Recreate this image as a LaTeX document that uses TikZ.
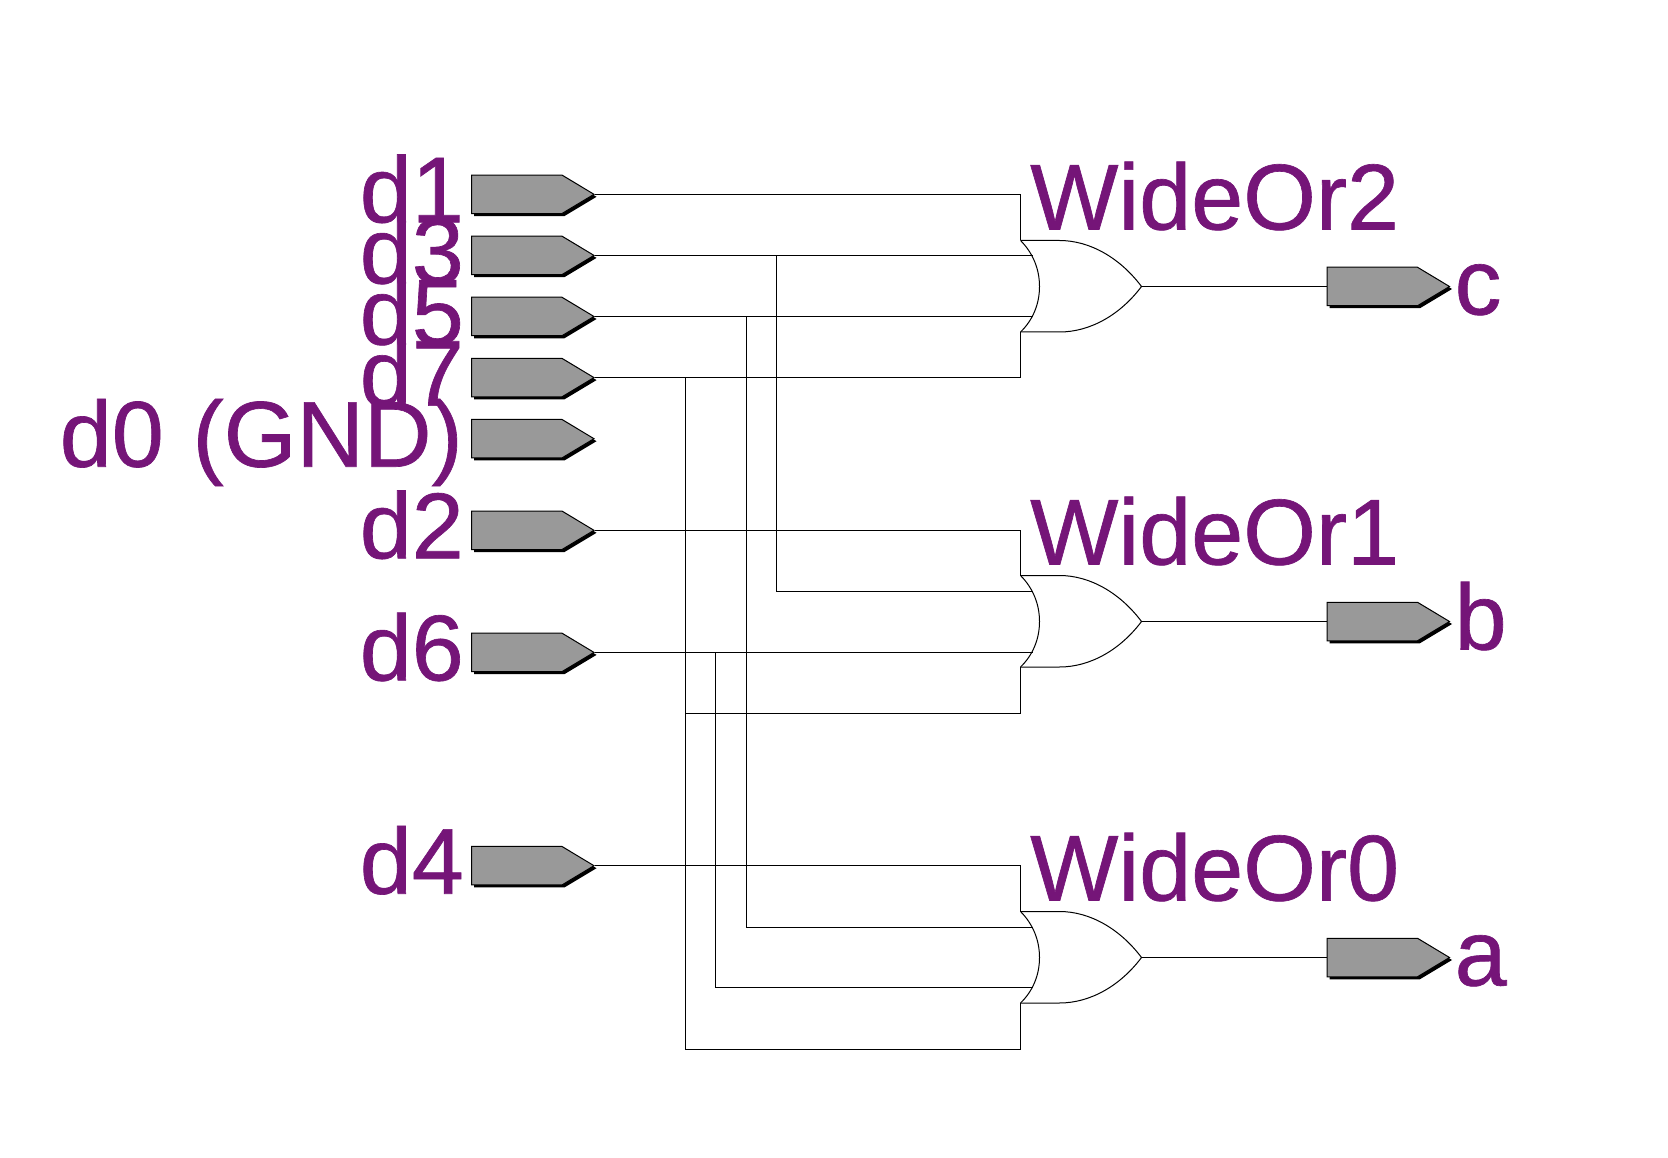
\documentclass[tikz,border=0pt]{standalone}
\usepackage{fontspec}
\setmainfont{Liberation Sans}
\newfontfamily\netfont[FakeBold=0.7]{Liberation Sans}
\usepackage{xcolor}
\usepackage{tikz}
\usetikzlibrary{positioning,shapes.symbols,shadows}
\definecolor{netpurple}{RGB}{117,21,120}
\definecolor{portgray}{RGB}{153,153,153}
\tikzset{
    port/.style={signal, signal to=east, signal pointer angle=62, draw=black, line width=1pt, fill=portgray, minimum width=122.5pt, minimum height=38.5pt, inner sep=0pt, drop shadow={shadow xshift=2.5pt, shadow yshift=-2.5pt, fill=black, opacity=1}},
    portname/.style={font=\netfont\fontsize{93.5}{94}\selectfont, text=netpurple, inner sep=0pt, text height=67pt, text depth=11pt},
    gatename/.style={font=\netfont\fontsize{93.5}{94}\selectfont, text=netpurple, inner sep=0pt, anchor=base west},
    wire/.style={line width=1pt, black},
    orgate/.pic={
        \coordinate (-top) at (0,-46);
        \coordinate (-in1) at (12,-30.5);
        \coordinate (-in2) at (12,30.2);
        \coordinate (-bot) at (0,45.5);
        \coordinate (-out) at (121,0);
        \draw[wire] (-top) -- (39,-46) .. controls (70,-46) and (100,-28) .. (-out) .. controls (100,28) and (70,45.5) .. (39,45.5) -- (-bot);
        \draw[wire] (-top) .. controls (12,-34) and (19,-18) .. (19,0) .. controls (19,18) and (12,34) .. (-bot);
        \node[gatename] (-name) at (9.5,-57) {#1};
    },
}
\begin{document}
\begin{tikzpicture}[x=1pt, y=-1pt, node distance=21.6pt]
    \useasboundingbox (0,0) rectangle (1668,1158);

    % gates
    \pic (g2) at (1020.5,286.5) {orgate=WideOr2};
    \pic (g1) at (1020.5,621.5) {orgate=WideOr1};
    \pic (g0) at (1020.5,957.5) {orgate=WideOr0};

    % input ports
    \node[port, anchor=west] (d1) at (471,194.3) {};
    \node[port, below=of d1] (d3) {};
    \node[port, below=of d3] (d5) {};
    \node[port, below=of d5] (d7) {};
    \node[port, below=of d7] (d0) {};
    \node[port, anchor=west] (d2) at (471,530.3) {};
    \node[port, anchor=west] (d6) at (471,652.4) {};
    \node[port, anchor=west] (d4) at (471,865.7) {};

    \node[portname, left=7pt of d1.west] (d1name) {d1};
    \node[portname, left=7pt of d3.west] (d3name) {d3};
    \node[portname, left=7pt of d5.west] (d5name) {d5};
    \node[portname, left=7pt of d7.west] (d7name) {d7};
    \node[portname, left=8pt of d0.west] (d0name) {d0\hspace{3pt} (GND)};
    \node[portname, left=7pt of d2.west] (d2name) {d2};
    \node[portname, left=7pt of d6.west] (d6name) {d6};
    \node[portname, left=7pt of d4.west] (d4name) {d4};

    % output ports
    \node[port, right=185pt of g2-out] (c) {};
    \node[port, right=185pt of g1-out] (b) {};
    \node[port, right=185pt of g0-out] (a) {};
    \node[portname, right=4pt of c.east] (cname) {c};
    \node[portname, right=4pt of b.east] (bname) {b};
    \node[portname, right=4pt of a.east] (aname) {a};

    % branch points
    \coordinate (d3tap) at (776,0 |- d3.east);
    \coordinate (d5tap) at (746.5,0 |- d5.east);
    \coordinate (d7tap) at (685.5,0 |- d7.east);
    \coordinate (d6tap) at (715.5,0 |- d6.east);
    \coordinate (g1low) at (1020.5,713.5);
    \coordinate (g0low) at (1020.5,1049.5);

    % wires
    \draw[wire] (d1.east) -| (g2-top);
    \draw[wire] (d3.east) -- (d3.east -| g2-in1);
    \draw[wire] (d5.east) -- (d5.east -| g2-in2);
    \draw[wire] (d7.east) -| (g2-bot);
    \draw[wire] (d2.east) -| (g1-top);
    \draw[wire] (d3tap) |- (g1-in1);
    \draw[wire] (d6.east) -- (d6.east -| g1-in2);
    \draw[wire] (d7tap |- g1low) -- (g1low) -- (g1-bot);
    \draw[wire] (d4.east) -| (g0-top);
    \draw[wire] (d5tap) |- (g0-in1);
    \draw[wire] (d6tap) |- (g0-in2);
    \draw[wire] (d7tap) |- (g0low) -- (g0-bot);
    \draw[wire] (g2-out) -- (c.west);
    \draw[wire] (g1-out) -- (b.west);
    \draw[wire] (g0-out) -- (a.west);
\end{tikzpicture}
\end{document}
